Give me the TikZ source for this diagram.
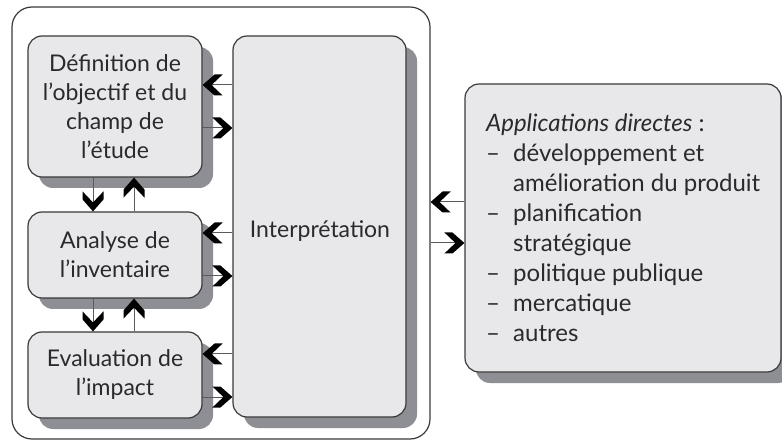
\documentclass[tikz,border=0pt]{standalone}
\usepackage{fontspec}
\setmainfont{Lato}
\usetikzlibrary{arrows.meta,shadows}
\definecolor{boxfill}{HTML}{E8E8EB}
\definecolor{shadowc}{HTML}{8E8E95}
\definecolor{edgec}{HTML}{3A3A3A}
\definecolor{linec}{HTML}{5A5A5A}
\definecolor{textc}{HTML}{2A2A2A}
\pgfdeclarearrow{
  name=Chev,
  setup code={
    \pgfarrowssettipend{0pt}
    \pgfarrowssetbackend{-20pt}
    \pgfarrowssetlineend{-9pt}
    \pgfarrowshullpoint{0pt}{0pt}
    \pgfarrowsupperhullpoint{-20pt}{10.5pt}
  },
  drawing code={
    \pgfpathmoveto{\pgfpoint{0pt}{0pt}}
    \pgfpathlineto{\pgfpoint{-12pt}{10.5pt}}
    \pgfpathlineto{\pgfpoint{-20pt}{10.5pt}}
    \pgfpathlineto{\pgfpoint{-9pt}{0pt}}
    \pgfpathlineto{\pgfpoint{-20pt}{-10.5pt}}
    \pgfpathlineto{\pgfpoint{-12pt}{-10.5pt}}
    \pgfpathclose
    \pgfusepathqfill
  }
}
\begin{document}
\begin{tikzpicture}[x=1pt,y=-1pt,
  every node/.style={text=textc},
  frame/.style={draw=edgec,line width=1.2pt,fill=white,rounded corners=20pt,minimum width=418pt,minimum height=432pt,inner sep=0pt},
  box/.style={draw=edgec,line width=1.2pt,fill=boxfill,rounded corners=14pt,inner sep=0pt,align=center,
    font=\fontsize{23}{29}\selectfont,
    general shadow={shadow xshift=11pt,shadow yshift=-11pt,fill=shadowc,draw=none}},
  arr/.style={draw=linec,line width=1pt,-{Chev[color=black,fill=black]}},
  listtext/.style={align=left,inner sep=0pt,anchor=west,font=\fontsize{24}{30}\selectfont}
]
\useasboundingbox (0,0) rectangle (782,446);
\node[frame] (frame) at (221,223) {};
\node[box,minimum width=174pt,minimum height=141pt] (b1) at (115,106.5) {Définition de\\l’objectif et du\\champ de\\l’étude};
\node[box,minimum width=174pt,minimum height=86pt] (b2) at (115,255) {Analyse de\\l’inventaire};
\node[box,minimum width=174pt,minimum height=86pt] (b3) at (115,375) {Evaluation de\\l’impact};
\node[box,minimum width=173pt,minimum height=381pt] (interp) at (319.5,226.5) {};
\node (interptext) at (320,231) {\fontsize{23}{29}\selectfont Interprétation};
\node[box,minimum width=316pt,minimum height=288pt] (app) at (623,228) {};
\node[listtext] (apptext) at (486,228) {\textit{Applications directes} :\\
\makebox[27pt][l]{–}développement et\\
\hspace*{27pt}amélioration du produit\\
\makebox[27pt][l]{–}planification\\
\hspace*{27pt}stratégique\\
\makebox[27pt][l]{–}politique publique\\
\makebox[27pt][l]{–}mercatique\\
\makebox[27pt][l]{–}autres};
% horizontal arrows between boxes and interpretation
\draw[arr] (interp.west |- 0,85) -- (b1.east |- 0,85);
\draw[arr] (b1.east |- 0,128) -- (interp.west |- 0,128);
\draw[arr] (interp.west |- 0,233) -- (b2.east |- 0,233);
\draw[arr] (b2.east |- 0,276) -- (interp.west |- 0,276);
\draw[arr] (interp.west |- 0,354) -- (b3.east |- 0,354);
\draw[arr] (b3.east |- 0,397) -- (interp.west |- 0,397);
% vertical arrows
\draw[arr] (b1.south -| 93,0) -- (b2.north -| 93,0);
\draw[arr] (b2.north -| 134,0) -- (b1.south -| 134,0);
\draw[arr] (b2.south -| 93,0) -- (b3.north -| 93,0);
\draw[arr] (b3.north -| 134,0) -- (b2.south -| 134,0);
% arrows to applications
\draw[arr] (app.west |- 0,202) -- (frame.east |- 0,202);
\draw[arr] (frame.east |- 0,243) -- (app.west |- 0,243);
\end{tikzpicture}
\end{document}
